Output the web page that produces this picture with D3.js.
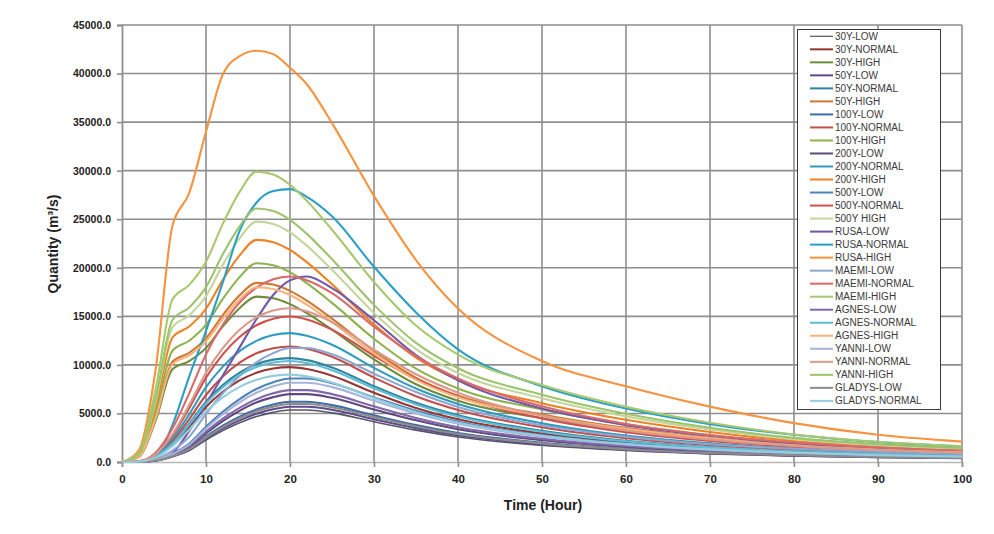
<!DOCTYPE html>
<html><head><meta charset="utf-8">
<script src="https://cdn.jsdelivr.net/npm/d3@7"></script>
<style>body{margin:0;background:#fff}svg{display:block}</style>
</head><body><svg id="chart" width="994" height="534"></svg>
<script>
// ---------- DATA ----------
const hours = [0,2,4,6,8,10,12,14,16,18,20,22,25,30,35,40,50,60,70,80,90,100];
const xTickValues = [0,10,20,30,40,50,60,70,80,90,100];
const yTickValues = [0,5000,10000,15000,20000,25000,30000,35000,40000,45000];

const seriesNames = ["30Y-LOW","30Y-NORMAL","30Y-HIGH","50Y-LOW","50Y-NORMAL","50Y-HIGH",
  "100Y-LOW","100Y-NORMAL","100Y-HIGH","200Y-LOW","200Y-NORMAL","200Y-HIGH",
  "500Y-LOW","500Y-NORMAL","500Y HIGH","RUSA-LOW","RUSA-NORMAL","RUSA-HIGH",
  "MAEMI-LOW","MAEMI-NORMAL","MAEMI-HIGH","AGNES-LOW","AGNES-NORMAL","AGNES-HIGH",
  "YANNI-LOW","YANNI-NORMAL","YANNI-HIGH","GLADYS-LOW","GLADYS-NORMAL"];

const y30Low     = [0,20,130,540,1180,2260,3230,4040,4680,5110,5350,5350,5060,4140,3280,2580,1720,1180,830,620,470,380];
const y30Normal  = [0,50,490,1760,3610,5670,7230,8400,9180,9620,9770,9570,8890,7130,5570,4400,2930,2000,1420,1030,760,590];
const y30High    = [0,510,4260,9540,10390,11750,13960,15840,17030,16860,16260,15330,13620,10560,8000,6300,4510,3240,2300,1620,1190,940];
const y50Low     = [0,20,140,570,1260,2400,3430,4290,4980,5430,5690,5690,5380,4400,3490,2750,1830,1260,890,660,500,400];
const y50Normal  = [0,50,540,1930,3960,6210,7920,9200,10060,10540,10700,10490,9740,7810,6100,4820,3210,2190,1550,1120,830,640];
const y50High    = [0,550,4610,10330,11250,12730,15130,17160,18450,18270,17620,16610,14760,11440,8670,6830,4890,3510,2490,1750,1290,1010];
const y100Low    = [0,20,160,620,1370,2620,3740,4670,5420,5920,6200,6200,5860,4800,3800,2990,1990,1370,970,720,550,440];
const y100Normal = [0,60,600,2140,4400,6900,8810,10230,11190,11720,11900,11660,10830,8690,6780,5360,3570,2440,1730,1250,930,710];
const y100High   = [0,610,5120,11460,12490,14120,16790,19040,20470,20270,19550,18420,16380,12690,9620,7570,5420,3890,2760,1940,1430,1130];
const y200Low    = [0,20,180,700,1550,2950,4220,5270,6120,6680,6990,6990,6610,5410,4290,3370,2250,1550,1090,810,620,490];
const y200Normal = [0,70,660,2390,4910,7700,9820,11410,12470,13070,13270,13000,12080,9690,7560,5970,3980,2720,1920,1390,1040,800];
const y200High   = [0,690,5720,12810,13950,15780,18750,21270,22870,22640,21840,20580,18300,14180,10750,8460,6060,4350,3090,2170,1600,1260];
const y500Low    = [0,30,220,860,1900,3630,5180,6480,7520,8210,8600,8600,8120,6650,5270,4150,2760,1900,1340,990,760,600];
const y500Normal = [0,70,750,2700,5540,8690,11090,12880,14080,14760,14980,14680,13630,10940,8540,6740,4490,3070,2170,1570,1170,900];
const y500High   = [0,740,6190,13860,15100,17080,20300,23020,24750,24500,23640,22280,19800,15350,11630,9160,6560,4700,3340,2350,1730,1360];
const rusaLow    = [0,20,200,900,3200,6000,8900,11800,14700,17200,18700,19100,17900,14600,11000,8400,5500,3800,2700,1900,1400,1100];
const rusaNormal = [0,60,500,3800,8800,13500,18500,23800,26700,27900,28100,27300,25300,20100,15400,11600,7800,5500,3900,2800,2050,1600];
const rusaHigh   = [0,1200,9500,24300,27700,34000,39900,41800,42350,42000,40600,38900,34900,27400,20800,15800,10400,7800,5700,4000,2800,2100];
const maemiLow   = [0,40,300,1180,2600,4960,7080,8850,10270,11210,11740,11740,11090,9090,7200,5660,3780,2600,1830,1360,1040,830];
const maemiNormal= [0,100,960,3440,7070,11080,14130,16430,17950,18810,19100,18720,17380,13940,10890,8600,5730,3920,2770,2010,1490,1150];
const maemiHigh  = [0,900,7480,16740,18240,20630,24520,27810,29900,29600,28550,26910,23920,18540,14050,11060,7920,5680,4040,2840,2090,1640];
const agnesLow   = [0,20,190,740,1640,3120,4460,5580,6470,7070,7400,7400,6990,5730,4540,3570,2380,1640,1150,860,650,520];
const agnesNormal= [0,50,520,1870,3850,6030,7700,8940,9780,10240,10400,10190,9460,7590,5930,4680,3120,2130,1510,1090,810,620];
const agnesHigh  = [0,540,4500,10080,10980,12420,14760,16740,18000,17820,17190,16200,14400,11160,8460,6660,4770,3420,2430,1710,1260,990];
const yanniLow   = [0,20,210,820,1800,3440,4920,6150,7130,7790,8160,8160,7710,6310,5000,3940,2620,1800,1270,940,720,570];
const yanniNormal= [0,80,790,2850,5860,9190,11720,13620,14890,15600,15840,15520,14410,11560,9030,7130,4750,3250,2300,1660,1240,950];
const yanniHigh  = [0,780,6530,14620,15920,18010,21400,24270,26100,25840,24930,23490,20880,16180,12270,9660,6920,4960,3520,2480,1830,1440];
const gladysLow  = [0,20,150,600,1320,2520,3600,4500,5220,5700,5970,5970,5640,4620,3660,2880,1920,1320,930,690,530,420];
const gladysNormal=[0,50,450,1620,3330,5220,6660,7740,8460,8870,9000,8820,8190,6570,5130,4050,2700,1850,1310,950,700,540];

const seriesValues = [y30Low,y30Normal,y30High,y50Low,y50Normal,y50High,y100Low,y100Normal,y100High,
  y200Low,y200Normal,y200High,y500Low,y500Normal,y500High,rusaLow,rusaNormal,rusaHigh,
  maemiLow,maemiNormal,maemiHigh,agnesLow,agnesNormal,agnesHigh,yanniLow,yanniNormal,yanniHigh,
  gladysLow,gladysNormal];

// ---------- STYLE ----------
const seriesColors = ["#55556a","#953735","#6f8c3a","#5f4b8b","#31859c","#d0782f",
  "#3f6ca5","#c0504d","#8fb24f","#604a7b","#2e9bbf","#f08020",
  "#4f81bd","#d0504e","#c3d69b","#7059a8","#2aa0c6","#f7923f",
  "#8ea5d0","#d9696a","#a8c870","#8068ab","#5ebcd6","#fab27a",
  "#a5b4d8","#d99a8a","#9cc46b","#8c8c8c","#93cddd"];

const svg = d3.select("#chart");
const x = d3.scaleLinear().domain([0,100]).range([122,962]);
const y = d3.scaleLinear().domain([0,45000]).range([462,25]);
const fontBold = "'Liberation Sans', Arial, sans-serif";

// gridlines
const grid = svg.append("g");
grid.selectAll("line.h").data(yTickValues.filter(v=>v>0)).join("line")
  .attr("x1",x(0)).attr("x2",x(100)).attr("y1",d=>y(d)).attr("y2",d=>y(d))
  .attr("stroke","#8e8e8e").attr("stroke-width",1.6);
grid.selectAll("line.v").data(xTickValues.filter(v=>v>0)).join("line")
  .attr("x1",d=>x(d)).attr("x2",d=>x(d)).attr("y1",y(45000)).attr("y2",y(0))
  .attr("stroke","#8e8e8e").attr("stroke-width",1.6);

// axes
const xAxis = svg.append("g").attr("transform",`translate(0,${y(0)})`)
  .call(d3.axisBottom(x).tickValues(xTickValues).tickSize(5).tickPadding(8).tickFormat(d3.format("d")));
xAxis.select(".domain").attr("stroke","#b8b8b8").attr("stroke-width",1.6);
xAxis.selectAll(".tick line").attr("stroke","#8e8e8e").attr("stroke-width",1.6);
xAxis.selectAll("text").attr("font-family",fontBold).attr("font-weight","bold").attr("font-size","11.5px").attr("fill","#222");

const yAxis = svg.append("g").attr("transform",`translate(${x(0)},0)`)
  .call(d3.axisLeft(y).tickValues(yTickValues).tickSize(5).tickPadding(6).tickFormat(d3.format(".1f")));
yAxis.select(".domain").attr("stroke","#8e8e8e").attr("stroke-width",1.8);
yAxis.selectAll(".tick line").attr("stroke","#8e8e8e").attr("stroke-width",1.6);
yAxis.selectAll("text").attr("font-family",fontBold).attr("font-weight","bold").attr("font-size","10.5px").attr("fill","#222");

// series lines
const line = d3.line().x((d,i)=>x(hours[i])).y(d=>y(d)).curve(d3.curveMonotoneX);
svg.append("g").selectAll("path").data(seriesValues).join("path")
  .attr("d",line).attr("fill","none")
  .attr("stroke",(d,i)=>seriesColors[i]).attr("stroke-width",(d,i)=>i===0?1.6:2.1)
  .attr("stroke-linejoin","round");

// axis titles
svg.append("text").attr("x",543).attr("y",510).attr("text-anchor","middle")
  .attr("font-family",fontBold).attr("font-weight","bold").attr("font-size","14px").attr("fill","#222")
  .text("Time (Hour)");
svg.append("text").attr("transform","translate(58,244) rotate(-90)").attr("text-anchor","middle")
  .attr("font-family",fontBold).attr("font-weight","bold").attr("font-size","14px").attr("fill","#222")
  .text("Quantity (m³/s)");

// legend
const lg = svg.append("g");
lg.append("rect").attr("x",797.5).attr("y",29.5).attr("width",143).attr("height",380)
  .attr("fill","#fff").attr("stroke","#3a3a3a").attr("stroke-width",1);
const items = lg.selectAll("g.item").data(seriesNames).join("g")
  .attr("transform",(d,i)=>`translate(0,${36.3+i*13.02})`);
items.append("line").attr("x1",810).attr("x2",833).attr("y1",0).attr("y2",0)
  .attr("stroke",(d,i)=>seriesColors[i]).attr("stroke-width",(d,i)=>i===0?1.2:2);
items.append("text").attr("x",835).attr("y",3.6).text(d=>d)
  .attr("font-family","'Liberation Sans', Arial, sans-serif").attr("font-size","10px").attr("fill","#3a3a3a");
</script></body></html>
